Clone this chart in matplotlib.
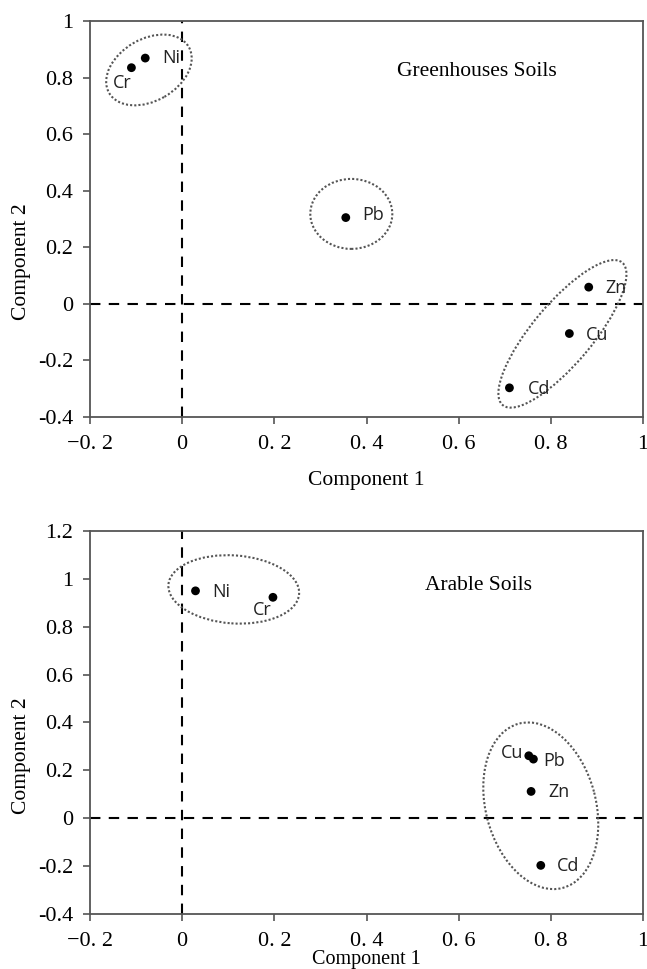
import matplotlib
matplotlib.use("Agg")
import matplotlib.pyplot as plt
from matplotlib.patches import Ellipse
from matplotlib.transforms import ScaledTranslation

# Greenhouse soils loadings
gh_names = ["Cr", "Ni", "Pb", "Zn", "Cu", "Cd"]
gh_c1 = [-0.11, -0.08, 0.355, 0.882, 0.84, 0.71]
gh_c2 = [0.835, 0.869, 0.305, 0.059, -0.105, -0.297]

# Arable soils loadings
ar_names = ["Ni", "Cr", "Cu", "Pb", "Zn", "Cd"]
ar_c1 = [0.029, 0.197, 0.752, 0.762, 0.757, 0.778]
ar_c2 = [0.95, 0.923, 0.261, 0.247, 0.112, -0.197]

xticks = [-0.2, 0, 0.2, 0.4, 0.6, 0.8, 1]
xticklabels = ["\u22120. 2", "0", "0. 2", "0. 4", "0. 6", "0. 8", "1"]
gh_yticks = [-0.4, -0.2, 0, 0.2, 0.4, 0.6, 0.8, 1]
gh_yticklabels = ["-0.4", "-0.2", "0", "0.2", "0.4", "0.6", "0.8", "1"]
ar_yticks = [-0.4, -0.2, 0, 0.2, 0.4, 0.6, 0.8, 1, 1.2]
ar_yticklabels = ["-0.4", "-0.2", "0", "0.2", "0.4", "0.6", "0.8", "1", "1.2"]

# label offsets in pixels (dx, dy) and alignment
gh_offsets = [(-9, -15, "center"), (17, 0, "left"), (16, 3, "left"),
              (17, -1, "left"), (17, -1, "left"), (18, -1, "left")]
ar_offsets = [(17, -1, "left"), (-11, -13, "center"), (-6, 3, "right"),
              (10, -2, "left"), (17, -1, "left"), (16, -1, "left")]

# ellipses: centre (data), width, height (px), angle
gh_ellipses = [((-0.072, 0.827), 92, 62, 30),
               ((0.367, 0.318), 82, 70, 0),
               ((0.825, -0.106), 186, 60, 50)]
ar_ellipses = [((0.112, 0.956), 131, 68, -4),
               ((0.778, 0.052), 170, 110, 105)]

SERIF = "Liberation Serif"
SANS = "Open Sans"
DPI = 100

fig = plt.figure(figsize=(6.47, 9.69), dpi=DPI)
ax1 = fig.add_axes([0.139, 0.5697, 0.855, 0.4086])
ax2 = fig.add_axes([0.139, 0.0568, 0.855, 0.3952])


def draw(ax, c1, c2, names, offsets, ellipses, yticks, yticklabels, ylim,
         title, tpos, xlab_y, ylab_y, xlab_size):
    ax.set_xlim(-0.2, 1)
    ax.set_ylim(*ylim)
    ax.axhline(0, color="black", lw=1.5, ls=(0, (5, 4)), zorder=1)
    ax.axvline(0, color="black", lw=1.5, ls=(0, (5, 4)), zorder=1)
    ax.scatter(c1, c2, s=40, color="black", zorder=3, edgecolors="none")
    for x, y, n, (dx, dy, ha) in zip(c1, c2, names, offsets):
        ax.annotate(n, (x, y), xytext=(dx * 72 / DPI, dy * 72 / DPI),
                    textcoords="offset points", ha=ha, va="center",
                    fontsize=13, family=SANS, color="#222222")
    for (cx, cy), w, h, ang in ellipses:
        tr = fig.dpi_scale_trans + ScaledTranslation(cx, cy, ax.transData)
        e = Ellipse((0, 0), w / DPI, h / DPI, angle=ang, transform=tr,
                    fill=False, ec="#555555", lw=1.5, ls=(0, (1, 1)), zorder=2)
        ax.add_patch(e)
    ax.text(tpos[0], tpos[1], title, transform=ax.transAxes, ha="center",
            va="center", fontsize=15.5, family=SERIF)
    ax.set_xticks(xticks)
    ax.set_xticklabels(xticklabels, family=SERIF, fontsize=16)
    ax.set_yticks(yticks)
    ax.set_yticklabels(yticklabels, family=SERIF, fontsize=16)
    ax.tick_params(direction="out", length=5, width=1.2, color="#555555")
    ax.tick_params(axis="x", pad=8)
    ax.tick_params(axis="y", pad=7)
    for s in ax.spines.values():
        s.set_color("#555555")
        s.set_linewidth(1.3)
    ax.set_xlabel("Component 1", family=SERIF, fontsize=xlab_size, va="center")
    ax.set_ylabel("Component 2", family=SERIF, fontsize=15.5, va="center")
    ax.xaxis.set_label_coords(0.5, xlab_y)
    ax.yaxis.set_label_coords(-0.123, ylab_y)


draw(ax1, gh_c1, gh_c2, gh_names, gh_offsets, gh_ellipses,
     gh_yticks, gh_yticklabels, (-0.4, 1), "Greenhouses Soils", (0.699, 0.872),
     -0.161, 0.391, 15.5)
draw(ax2, ar_c1, ar_c2, ar_names, ar_offsets, ar_ellipses,
     ar_yticks, ar_yticklabels, (-0.4, 1.2), "Arable Soils", (0.703, 0.859),
     -0.119, 0.413, 14.5)

fig.savefig("out.png", dpi=DPI)
